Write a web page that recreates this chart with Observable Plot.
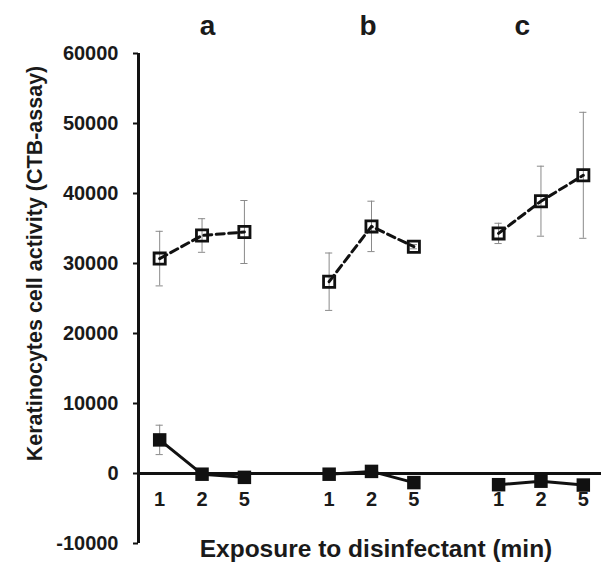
<!DOCTYPE html>
<html>
<head>
<meta charset="utf-8">
<script src="https://cdn.jsdelivr.net/npm/d3@7"></script>
<script src="https://cdn.jsdelivr.net/npm/@observablehq/plot@0.6"></script>
<style>
  html, body { margin: 0; padding: 0; background: white; }
  svg text { font-family: Arial, "Liberation Sans", sans-serif; font-weight: bold; fill: #1a1a1a; }
</style>
</head>
<body>
<div id="chart"></div>
<script>
// Panels and exposure times
const groups = ["a", "b", "c"];
const exposures = ["1", "2", "5"];
// Hollow squares (dashed line): mean and error
const hollowMean = [30700, 34000, 34500, 27400, 35300, 32400, 34300, 38900, 42600];
const hollowErr  = [3900, 2400, 4500, 4100, 3600, 300, 1450, 5000, 9000];
// Filled squares (solid line): mean and error
const filledMean = [4800, -100, -550, -100, 300, -1300, -1600, -1100, -1650];
const filledErr  = [2100, 700, 300, 300, 300, 300, 300, 300, 300];
// Axis ticks
const yTicks = [-10000, 0, 10000, 20000, 30000, 40000, 50000, 60000];
const yLabel = "Keratinocytes cell activity (CTB-assay)";
const xLabel = "Exposure to disinfectant (min)";

// Build table: each group occupies 3 slots followed by one empty slot
const rows = [];
groups.forEach((g, gi) => exposures.forEach((e, ei) => {
  const k = gi * 3 + ei;
  rows.push({group: g, exposure: e, slot: gi * 4 + ei,
    hm: hollowMean[k], he: hollowErr[k], fm: filledMean[k], fe: filledErr[k]});
}));
const titleNudge = [0.13, -0.08, -0.44];
const groupTitles = groups.map((g, gi) => ({g, slot: gi * 4 + 1 + titleNudge[gi]}));

const cap = 0.085;
const errColor = "#8a8a8a";

const plot = Plot.plot({
  width: 601,
  height: 573,
  marginLeft: 138,
  marginRight: 0,
  marginTop: 53,
  marginBottom: 30,
  x: {type: "linear", domain: [-0.5, 10.5], range: [138, 604]},
  y: {type: "linear", domain: [-10000, 60000], range: [543, 53]},
  style: {fontFamily: "Arial, 'Liberation Sans', sans-serif", overflow: "visible"},
  marks: [
    // error bars
    Plot.ruleX(rows, {x: "slot", y1: d => d.hm - d.he, y2: d => d.hm + d.he, stroke: errColor, strokeWidth: 1}),
    Plot.ruleY(rows, {y: d => d.hm - d.he, x1: d => d.slot - cap, x2: d => d.slot + cap, stroke: errColor, strokeWidth: 1}),
    Plot.ruleY(rows, {y: d => d.hm + d.he, x1: d => d.slot - cap, x2: d => d.slot + cap, stroke: errColor, strokeWidth: 1}),
    Plot.ruleX(rows, {x: "slot", y1: d => d.fm - d.fe, y2: d => d.fm + d.fe, stroke: errColor, strokeWidth: 1}),
    Plot.ruleY(rows, {y: d => d.fm - d.fe, x1: d => d.slot - cap, x2: d => d.slot + cap, stroke: errColor, strokeWidth: 1}),
    Plot.ruleY(rows, {y: d => d.fm + d.fe, x1: d => d.slot - cap, x2: d => d.slot + cap, stroke: errColor, strokeWidth: 1}),
    // axes
    Plot.axisX({ticks: [], label: null, tickSize: 0}),
    Plot.axisY({ticks: yTicks, tickFormat: d => String(d), tickSize: 5, tickPadding: 15, strokeWidth: 2, stroke: "#111",
      fontSize: 20, fontWeight: "bold", label: null}),
    Plot.ruleY([0], {x1: -0.5, x2: 10.5, stroke: "#111", strokeWidth: 3}),
    Plot.ruleX([-0.5], {y1: -10000, y2: 60000, stroke: "#111", strokeWidth: 3}),
    // series lines
    Plot.line(rows, {x: "slot", y: "hm", z: "group", stroke: "#111", strokeWidth: 3, strokeDasharray: "8,4.5"}),
    Plot.line(rows, {x: "slot", y: "fm", z: "group", stroke: "#111", strokeWidth: 3}),
    // markers
    Plot.dot(rows, {x: "slot", y: "hm", symbol: "square", r: 6.3, stroke: "#111", strokeWidth: 2.8, fill: "none"}),
    Plot.dot(rows, {x: "slot", y: "fm", symbol: "square", r: 7.6, fill: "#111", stroke: "none"}),
    // category labels
    Plot.text(rows, {x: "slot", y: 0, text: "exposure", dy: 26, fontSize: 20, fontWeight: "bold"}),
    Plot.text(groupTitles, {x: "slot", y: 60000, text: "g", dy: -27, fontSize: 28, fontWeight: "bold"}),
    // axis titles
    Plot.text([yLabel], {frameAnchor: "left", textAnchor: "middle", lineAnchor: "middle", rotate: -90, dx: -103, dy: -35, fontSize: 21.5, fontWeight: "bold"}),
    Plot.text([xLabel], {frameAnchor: "bottom", textAnchor: "middle", lineAnchor: "middle", dx: 6, dy: 6, fontSize: 24.5, fontWeight: "bold"})
  ]
});
document.getElementById("chart").appendChild(plot);
</script>
</body>
</html>
